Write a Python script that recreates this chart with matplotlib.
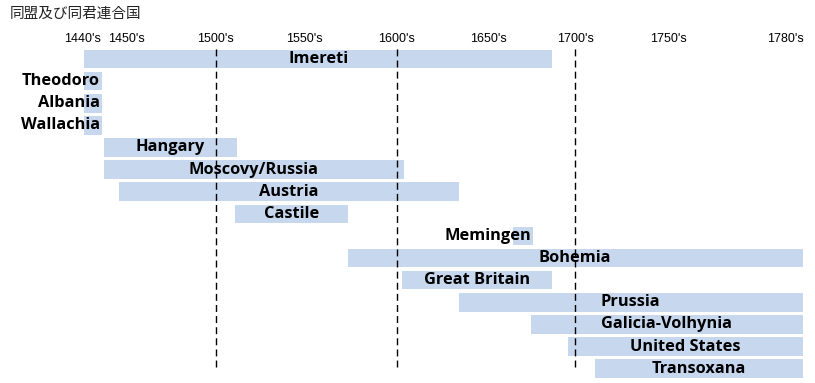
import numpy as np
import matplotlib
matplotlib.use("Agg")
import matplotlib.pyplot as plt

# ---------------- data ----------------
title = "同盟及び同君連合国"
states = ["Imereti", "Theodoro", "Albania", "Wallachia", "Hangary",
          "Moscovy/Russia", "Austria", "Castile", "Memingen", "Bohemia",
          "Great Britain", "Prussia", "Galicia-Volhynia", "United States",
          "Transoxana"]
start_year = [1440.5, 1440.5, 1440.5, 1440.5, 1445, 1445, 1448.5, 1511,
              1664.5, 1573.5, 1603, 1634, 1674.5, 1696, 1711]
end_year = [1687, 1444.5, 1444.5, 1444.5, 1512, 1604, 1634, 1573.5,
            1676, 1784.5, 1687, 1784.5, 1784.5, 1784.5, 1784.5]
tick_years = [1440, 1450, 1500, 1550, 1600, 1650, 1700, 1750, 1780]
tick_labels = ["1440's", "1450's", "1500's", "1550's", "1600's",
               "1650's", "1700's", "1750's", "1780's"]
marker_years = [1500, 1600, 1700]

# ---------------- non-uniform time axis (as drawn in the original) ----------------
W, H = 815, 383
anchor_years = [1300] + tick_years + [1900]
anchor_pos = [-534, 82, 126, 215.5, 304.5, 396.5, 488, 575, 668, 785, 1253]

def fwd(x):
    return np.interp(np.asarray(x, dtype=float), anchor_years, anchor_pos)

def inv(p):
    return np.interp(np.asarray(p, dtype=float), anchor_pos, anchor_years)

BAR_COLOR = "#C6D7EE"
fig = plt.figure(figsize=(W / 100, H / 100), dpi=100)
top_px = 46
ax = fig.add_axes([0, 0, 1, 1 - top_px / H])
ax.set_xscale("function", functions=(fwd, inv))
ax.set_xlim(float(inv(0)), float(inv(W)))

row0, dy = 59.0, 22.12
ax.set_ylim((H - row0) / dy, (top_px - row0) / dy)

for s in ax.spines.values():
    s.set_visible(False)
ax.set_yticks([])
ax.xaxis.tick_top()
ax.set_xticks(tick_years)
ax.set_xticklabels(tick_labels, fontsize=9, family="Liberation Sans")
ax.tick_params(axis="x", length=0, pad=0.5)
ax.xaxis.set_minor_locator(matplotlib.ticker.NullLocator())

ypos = np.arange(len(states))
widths = [e - s for s, e in zip(start_year, end_year)]
ax.barh(ypos, widths, left=start_year, height=0.84, color=BAR_COLOR,
        edgecolor="none", zorder=1)

texts = []
for i, (name, s, e) in enumerate(zip(states, start_year, end_year)):
    cx = float(inv((fwd(s) + fwd(e)) / 2))
    t = ax.text(cx, i, name, ha="center", va="center", fontsize=11.8,
                fontweight="bold", family="Open Sans", color="black",
                zorder=3)
    texts.append((t, s, e))

fig.canvas.draw()
r = fig.canvas.get_renderer()
for t, s, e in texts:
    wpx = t.get_window_extent(r).width
    if wpx > (fwd(e) - fwd(s)):
        t.set_ha("right")
        t.set_x(float(inv(fwd(e) - 2)))

for yr in marker_years:
    ax.axvline(yr, ymin=(H - 367) / (H - top_px), ymax=1, color="black",
               lw=1, linestyle=(0, (5, 3)), zorder=4)

fig.text(10 / W, 1 - 14 / H, title, ha="left", va="center", fontsize=10.5,
         family=["Noto Sans CJK JP", "DejaVu Sans"], color="#222222")

fig.savefig("out.png", dpi=100)
